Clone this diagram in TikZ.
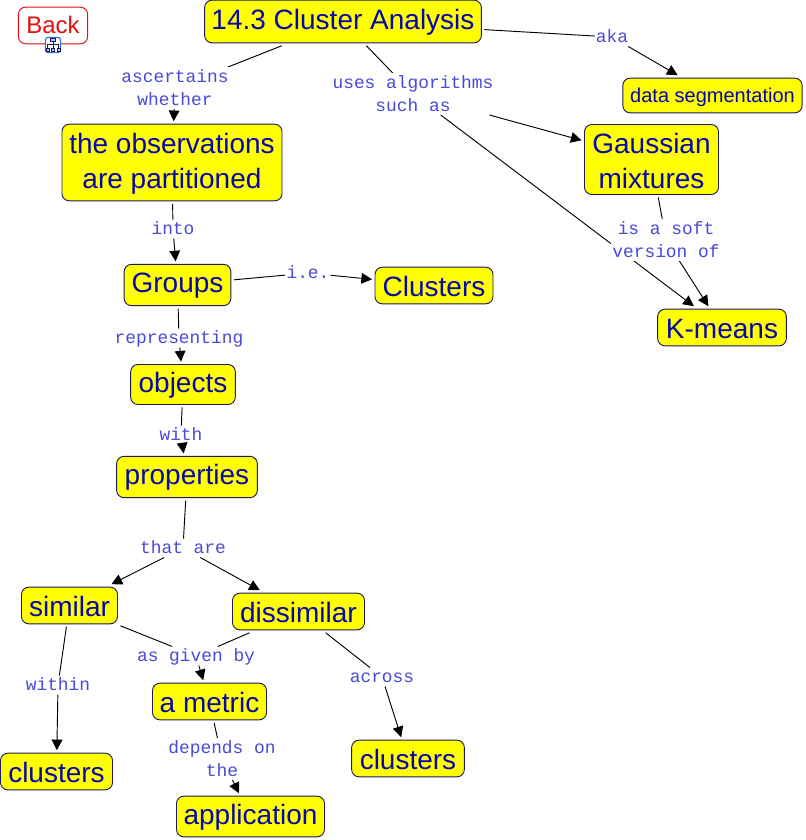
\documentclass[tikz,border=0pt]{standalone}
\usepackage{fontspec}
\setmainfont{Liberation Sans}
\newfontfamily\lblfont{Liberation Mono}
\usetikzlibrary{arrows.meta,backgrounds}
\definecolor{boxfill}{RGB}{255,255,0}
\definecolor{boxtext}{HTML}{0808A8}
\definecolor{boxline}{HTML}{1A1A60}
\definecolor{lbltext}{HTML}{4A4AD8}
\definecolor{backred}{HTML}{E01010}
\definecolor{iconblue}{HTML}{3070D0}
\newcommand\dn[2]{\raisebox{-#1pt}[0.7\baselineskip][0.3\baselineskip]{#2}}
\tikzset{
  x=0.75pt,y=-0.75pt,
  cbox/.style={draw=boxline,line width=0.7pt,fill=boxfill,rounded corners=5.5pt,text=boxtext,align=center,inner sep=0pt,outer sep=2.2pt,font=\fontsize{21}{26.25}\selectfont},
  lbl/.style={fill=white,text=lbltext,align=center,inner xsep=0.8pt,inner ysep=-1.5pt,outer sep=0pt,font=\lblfont\fontsize{13.4}{17.25}\selectfont},
  conn/.style={draw=black,line width=0.7pt},
  arr/.style={conn,-{Triangle[length=8pt,width=8pt]}}
}
\begin{document}
\begin{tikzpicture}
\useasboundingbox (0,0) rectangle (806,840);
% concept boxes
\node[cbox,minimum width=207.5pt,minimum height=32pt] (top) at (343,21.5) {\dn{0.8}{14.3 Cluster Analysis}};
\node[cbox,minimum width=165pt,minimum height=57.5pt] (obs) at (172,162.5) {\dn{0.8}{the observations}\\\dn{0.8}{are partitioned}};
\node[cbox,minimum width=80pt,minimum height=31pt] (groups) at (177.5,285) {\dn{0}{Groups}};
\node[cbox,minimum width=88.5pt,minimum height=27.5pt] (clusters) at (434,285.5) {\dn{3}{Clusters}};
\node[cbox,minimum width=134.5pt,minimum height=26pt,font=\fontsize{15}{19}\selectfont] (seg) at (712.5,95.5) {\dn{1.5}{data segmentation}};
\node[cbox,minimum width=100.5pt,minimum height=52.5pt] (gauss) at (651.5,159.5) {\dn{3}{Gaussian}\\\dn{3}{mixtures}};
\node[cbox,minimum width=96.5pt,minimum height=27.5pt] (kmeans) at (722,327.5) {\dn{3}{K-means}};
\node[cbox,minimum width=78.5pt,minimum height=30pt] (objects) at (183,384.5) {\dn{0.8}{objects}};
\node[cbox,minimum width=105.5pt,minimum height=31pt] (props) at (187,477) {\dn{0}{properties}};
\node[cbox,minimum width=72pt,minimum height=27.5pt] (similar) at (69.5,605.5) {\dn{3}{similar}};
\node[cbox,minimum width=99pt,minimum height=27.5pt] (dissim) at (298.5,611.5) {\dn{3}{dissimilar}};
\node[cbox,minimum width=85.5pt,minimum height=27.5pt] (metric) at (209.5,701.5) {\dn{3}{a metric}};
\node[cbox,minimum width=84pt,minimum height=27.5pt] (clleft) at (56.5,771.5) {\dn{3}{clusters}};
\node[cbox,minimum width=84.5pt,minimum height=27.5pt] (clright) at (408,758.5) {\dn{3}{clusters}};
\node[cbox,minimum width=111pt,minimum height=30.5pt] (app) at (250.5,816.5) {\dn{0.8}{application}};
% Back
\node[draw=backred,line width=0.7pt,fill=white,rounded corners=5.5pt,text=backred,inner sep=0pt,minimum width=52pt,minimum height=27.5pt,font=\fontsize{18}{22}\selectfont] (back) at (53,25.5) {\dn{1.5}{Back}};
% icon
\node[draw=iconblue,line width=0.8pt,fill=white,rounded corners=2pt,minimum width=11.5pt,minimum height=11.5pt,inner sep=0pt] (icon) at (53,45) {};
\draw[boxline,line width=0.4pt] (53,41) -- (53,48.5) (47.5,48.5) -- (47.5,44.5) -- (58.5,44.5) -- (58.5,48.5);
\draw[boxline,line width=0.4pt,fill=iconblue!40] (50.5,38) rectangle (55.5,41.5);
\draw[boxline,line width=0.4pt,fill=iconblue!40] (46,48.5) rectangle (49,51) (51.5,48.5) rectangle (54.5,51) (57,48.5) rectangle (60,51);
% linking phrases
\node[lbl] (l1) at (175,88) {\dn{0.8}{ascertains}\\\dn{0.8}{whether}};
\node[lbl] (l2) at (413,94) {\dn{0.8}{uses algorithms}\\\dn{0.8}{such as}};
\node[lbl] (l3) at (612,37) {\dn{0.8}{aka}};
\node[lbl] (l4) at (666,240) {\dn{0.8}{is a soft}\\\dn{0.8}{version of}};
\node[lbl] (l5) at (173,229) {\dn{0.8}{into}};
\node[lbl] (l6) at (308,273) {\dn{0.8}{i.e.}};
\node[lbl] (l7) at (179,338) {\dn{0.8}{representing}};
\node[lbl] (l8) at (181,435) {\dn{0.8}{with}};
\node[lbl] (l9) at (183,548) {\dn{0.8}{that are}};
\node[lbl] (l10) at (196,656) {\dn{0.8}{as given by}};
\node[lbl] (l11) at (58,685) {\dn{0.8}{within}};
\node[lbl] (l12) at (382,677) {\dn{0.8}{across}};
\node[lbl] (l13) at (222,759) {\dn{0.8}{depends on}\\\dn{0.8}{the}};
% connectors
\begin{scope}[on background layer]
\draw[conn] (top) -- (l1);
\draw[conn] (top) -- (l2);
\draw[arr] (l2) -- (kmeans);
\draw[conn] (top) -- (l3);
\draw[conn] (gauss) -- (l4);
\draw[conn] (obs) -- (l5);
\draw[conn] (groups) -- (l6);
\draw[conn] (groups) -- (l7);
\draw[conn] (objects) -- (l8);
\draw[conn] (props) -- (l9);
\draw[conn] (similar) -- (l10);
\draw[conn] (dissim) -- (l10);
\draw[conn] (similar) -- (l11);
\draw[conn] (dissim) -- (l12);
\draw[conn] (metric) -- (l13);
\end{scope}
\draw[arr] (l1) -- (obs);
\draw[arr] (l2) -- (gauss);
\draw[arr] (l3) -- (seg);
\draw[arr] (l4) -- (kmeans);
\draw[arr] (l5) -- (groups);
\draw[arr] (l6) -- (clusters);
\draw[arr] (l7) -- (objects);
\draw[arr] (l8) -- (props);
\draw[arr] (l9) -- (similar);
\draw[arr] (l9) -- (dissim);
\draw[arr] (l10) -- (metric);
\draw[arr] (l11) -- (clleft);
\draw[arr] (l12) -- (clright);
\draw[arr] (l13) -- (app);
\end{tikzpicture}
\end{document}
